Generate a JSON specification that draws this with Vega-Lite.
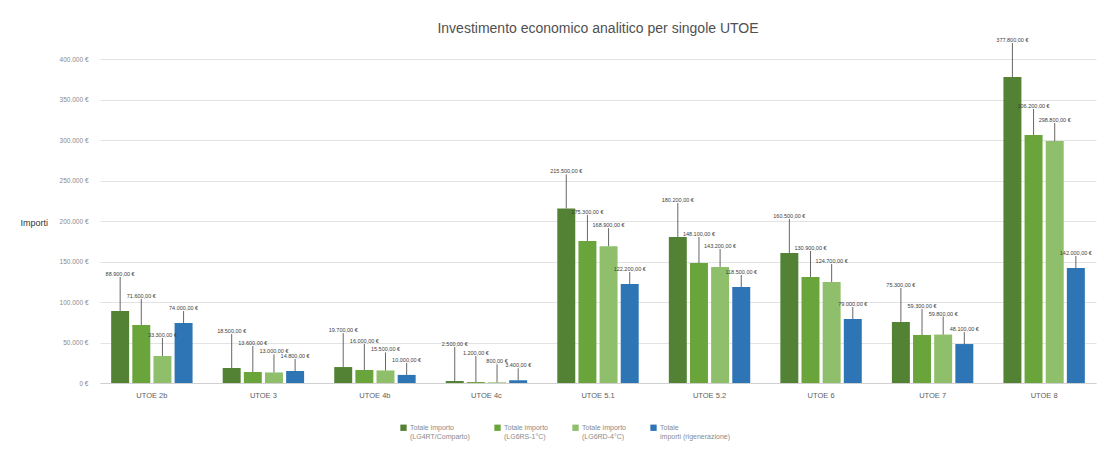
{
  "$schema": "https://vega.github.io/schema/vega-lite/v6.json",
  "width": 1110,
  "height": 459,
  "autosize": {"type": "fit", "contains": "padding"},
  "padding": {"left": 20, "top": 29, "right": 14, "bottom": 60},
  "background": "white",
  "config": {
    "locale": {"number": {"decimal": ",", "thousands": ".", "grouping": [3], "currency": ["", " €"]}},
    "font": "Liberation Sans",
    "view": {"stroke": null},
    "axis": {"labelColor": "#8a8a8a", "labelFontSize": 6.5, "titleColor": "#555555", "tickColor": "#d9d9d9", "domainColor": "#d0d0d0", "gridColor": "#e3e3e3"}
  },
  "title": {"text": "Investimento economico analitico per singole UTOE", "fontSize": 14, "fontWeight": "normal", "color": "#505050", "offset": 2},
  "data": {"values": [
    {"utoe": "UTOE 2b", "serie": "Totale importo|(LG4RT/Comparto)", "s": 1, "valore": 88900},
    {"utoe": "UTOE 2b", "serie": "Totale importo|(LG6RS-1°C)", "s": 2, "valore": 71600},
    {"utoe": "UTOE 2b", "serie": "Totale importo|(LG6RD-4°C)", "s": 3, "valore": 33300},
    {"utoe": "UTOE 2b", "serie": "Totale|importi (rigenerazione)", "s": 4, "valore": 74000},
    {"utoe": "UTOE 3", "serie": "Totale importo|(LG4RT/Comparto)", "s": 1, "valore": 18500},
    {"utoe": "UTOE 3", "serie": "Totale importo|(LG6RS-1°C)", "s": 2, "valore": 13600},
    {"utoe": "UTOE 3", "serie": "Totale importo|(LG6RD-4°C)", "s": 3, "valore": 13000},
    {"utoe": "UTOE 3", "serie": "Totale|importi (rigenerazione)", "s": 4, "valore": 14800},
    {"utoe": "UTOE 4b", "serie": "Totale importo|(LG4RT/Comparto)", "s": 1, "valore": 19700},
    {"utoe": "UTOE 4b", "serie": "Totale importo|(LG6RS-1°C)", "s": 2, "valore": 16000},
    {"utoe": "UTOE 4b", "serie": "Totale importo|(LG6RD-4°C)", "s": 3, "valore": 15500},
    {"utoe": "UTOE 4b", "serie": "Totale|importi (rigenerazione)", "s": 4, "valore": 10000},
    {"utoe": "UTOE 4c", "serie": "Totale importo|(LG4RT/Comparto)", "s": 1, "valore": 2500},
    {"utoe": "UTOE 4c", "serie": "Totale importo|(LG6RS-1°C)", "s": 2, "valore": 1200},
    {"utoe": "UTOE 4c", "serie": "Totale importo|(LG6RD-4°C)", "s": 3, "valore": 800},
    {"utoe": "UTOE 4c", "serie": "Totale|importi (rigenerazione)", "s": 4, "valore": 3400},
    {"utoe": "UTOE 5.1", "serie": "Totale importo|(LG4RT/Comparto)", "s": 1, "valore": 215500},
    {"utoe": "UTOE 5.1", "serie": "Totale importo|(LG6RS-1°C)", "s": 2, "valore": 175300},
    {"utoe": "UTOE 5.1", "serie": "Totale importo|(LG6RD-4°C)", "s": 3, "valore": 168900},
    {"utoe": "UTOE 5.1", "serie": "Totale|importi (rigenerazione)", "s": 4, "valore": 122200},
    {"utoe": "UTOE 5.2", "serie": "Totale importo|(LG4RT/Comparto)", "s": 1, "valore": 180200},
    {"utoe": "UTOE 5.2", "serie": "Totale importo|(LG6RS-1°C)", "s": 2, "valore": 148100},
    {"utoe": "UTOE 5.2", "serie": "Totale importo|(LG6RD-4°C)", "s": 3, "valore": 143200},
    {"utoe": "UTOE 5.2", "serie": "Totale|importi (rigenerazione)", "s": 4, "valore": 118500},
    {"utoe": "UTOE 6", "serie": "Totale importo|(LG4RT/Comparto)", "s": 1, "valore": 160500},
    {"utoe": "UTOE 6", "serie": "Totale importo|(LG6RS-1°C)", "s": 2, "valore": 130900},
    {"utoe": "UTOE 6", "serie": "Totale importo|(LG6RD-4°C)", "s": 3, "valore": 124700},
    {"utoe": "UTOE 6", "serie": "Totale|importi (rigenerazione)", "s": 4, "valore": 79000},
    {"utoe": "UTOE 7", "serie": "Totale importo|(LG4RT/Comparto)", "s": 1, "valore": 75300},
    {"utoe": "UTOE 7", "serie": "Totale importo|(LG6RS-1°C)", "s": 2, "valore": 59300},
    {"utoe": "UTOE 7", "serie": "Totale importo|(LG6RD-4°C)", "s": 3, "valore": 59800},
    {"utoe": "UTOE 7", "serie": "Totale|importi (rigenerazione)", "s": 4, "valore": 48100},
    {"utoe": "UTOE 8", "serie": "Totale importo|(LG4RT/Comparto)", "s": 1, "valore": 377800},
    {"utoe": "UTOE 8", "serie": "Totale importo|(LG6RS-1°C)", "s": 2, "valore": 306200},
    {"utoe": "UTOE 8", "serie": "Totale importo|(LG6RD-4°C)", "s": 3, "valore": 298800},
    {"utoe": "UTOE 8", "serie": "Totale|importi (rigenerazione)", "s": 4, "valore": 142000}
  ]},
  "encoding": {
    "x": {"field": "utoe", "type": "nominal", "sort": null, "title": null,
      "scale": {"paddingInner": 0.27, "paddingOuter": 0.1},
      "axis": {"labelAngle": 0, "labelFontSize": 7.5, "labelColor": "#606060", "labelPadding": 8, "ticks": false}},
    "xOffset": {"field": "serie", "type": "nominal", "sort": {"field": "s"}, "scale": {"paddingInner": 0.15}},
    "y": {"field": "valore", "type": "quantitative", "title": "Importi",
      "scale": {"domain": [0, 400000]},
      "axis": {"values": [0, 50000, 100000, 150000, 200000, 250000, 300000, 350000, 400000], "labelOverlap": false, "format": "$,.0f", "domain": false, "ticks": false, "labelPadding": 12,
        "titleAngle": 0, "titleAlign": "left", "titleBaseline": "middle", "titleX": -80, "titleY": 163, "titleFontSize": 9, "titleFontWeight": "normal", "titleColor": "#333333"}}
  },
  "layer": [
    {"mark": {"type": "bar"},
     "encoding": {
       "color": {"field": "serie", "type": "nominal", "sort": {"field": "s"},
         "scale": {"range": ["#548235", "#6aa53c", "#8fbf6a", "#2e75b6"]},
         "legend": {"orient": "none", "legendX": 300, "legendY": 365, "direction": "horizontal", "columns": 4, "title": null, "symbolType": "square", "symbolSize": 40, "symbolStrokeWidth": 0, "labelFontSize": 7, "labelColor": "#8a8a8a", "columnPadding": 24, "labelOffset": 3, "labelExpr": "split(datum.label, '|')"}
       }}},
    {"mark": {"type": "rule", "color": "#404040", "strokeWidth": 0.8, "y2Offset": {"expr": "datum.s == 1 ? -34 : datum.s == 2 ? -26 : datum.s == 3 ? -18 : -12"}},
     "encoding": {"y2": {"field": "valore"}}},
    {"mark": {"type": "text", "fontSize": 5.5, "color": "#404040", "baseline": "bottom", "dy": {"expr": "datum.s == 1 ? -34 : datum.s == 2 ? -26 : datum.s == 3 ? -18 : -12"}},
     "encoding": {"text": {"field": "valore", "type": "quantitative", "format": "$,.2f"}}}
  ]
}
